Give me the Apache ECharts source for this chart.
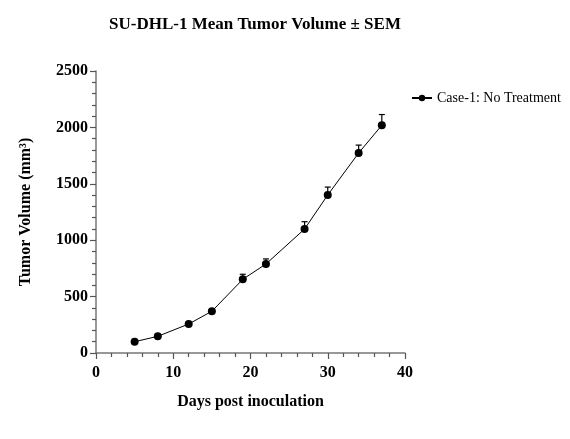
<!DOCTYPE html>
<html>
<head>
<meta charset="utf-8">
<script src="https://cdn.jsdelivr.net/npm/echarts@6/dist/echarts.min.js"></script>
<style>
  html, body { margin: 0; padding: 0; background: #fff; }
  #chart { width: 570px; height: 439px; }
</style>
</head>
<body>
<div id="chart"></div>
<script>
// data
const days = [5, 8, 12, 15, 19, 22, 27, 30, 34, 37]
const meanVolume = [100, 148, 257, 370, 653, 789, 1099, 1401, 1773, 2019]
const sem = [0, 0, 0, 0, 45, 45, 65, 70, 70, 95]
const seriesName = 'Case-1: No Treatment'

const serif = '"Liberation Serif", "Times New Roman", serif'

const points = days.map((d, i) => [d, meanVolume[i]])
const errData = days.map((d, i) => [d, meanVolume[i], meanVolume[i] + sem[i]])

const chart = echarts.init(document.getElementById('chart'))

// upper error bar only, like the source plot
const renderErr = (params, api) => {
  const x = api.value(0)
  const lo = api.coord([x, api.value(1)])
  const hi = api.coord([x, api.value(2)])
  const cap = 3
  const style = { stroke: '#000', lineWidth: 1.2 }
  return {
    type: 'group',
    children: [
      { type: 'line', shape: { x1: lo[0], y1: lo[1], x2: hi[0], y2: hi[1] }, style },
      { type: 'line', shape: { x1: hi[0] - cap, y1: hi[1], x2: hi[0] + cap, y2: hi[1] }, style }
    ]
  }
}

chart.setOption({
  animation: false,
  title: {
    text: 'SU-DHL-1 Mean Tumor Volume ± SEM',
    left: 250,
    textAlign: 'center',
    top: 11,
    textStyle: { fontFamily: serif, fontWeight: 'bold', fontSize: 17, color: '#000' }
  },
  legend: {
    left: 406,
    top: 86,
    itemWidth: 20,
    itemHeight: 8,
    itemGap: 8,
    textStyle: { fontFamily: serif, fontSize: 14, color: '#000' },
    data: [seriesName]
  },
  grid: { left: 96, right: 165, top: 71, bottom: 86 },
  xAxis: {
    type: 'value',
    min: 0,
    max: 40,
    interval: 10,
    name: 'Days post inoculation',
    nameLocation: 'middle',
    nameGap: 41,
    nameTextStyle: { fontFamily: serif, fontWeight: 'bold', fontSize: 16, color: '#000' },
    axisLine: { show: true, lineStyle: { color: '#777', width: 1.5 } },
    axisTick: { show: true, length: 6, lineStyle: { color: '#555', width: 1.2 } },
    minorTick: { show: true, splitNumber: 5, length: 4, lineStyle: { color: '#555', width: 1.2 } },
    axisLabel: { fontFamily: serif, fontWeight: 'bold', fontSize: 16, color: '#000', margin: 12 },
    splitLine: { show: false }
  },
  yAxis: {
    type: 'value',
    min: 0,
    max: 2500,
    interval: 500,
    name: 'Tumor Volume (mm³)',
    nameLocation: 'middle',
    nameGap: 62,
    nameTextStyle: { fontFamily: serif, fontWeight: 'bold', fontSize: 16, color: '#000' },
    axisLine: { show: true, lineStyle: { color: '#777', width: 1.5 } },
    axisTick: { show: true, length: 6, lineStyle: { color: '#555', width: 1.2 } },
    minorTick: { show: true, splitNumber: 5, length: 4, lineStyle: { color: '#555', width: 1.2 } },
    axisLabel: {
      fontFamily: serif, fontWeight: 'bold', fontSize: 16, color: '#000', margin: 8,
      formatter: v => String(v)
    },
    splitLine: { show: false }
  },
  series: [
    {
      type: 'custom',
      name: 'err',
      renderItem: renderErr,
      data: errData,
      encode: { x: 0, y: [1, 2] },
      z: 1,
      silent: true
    },
    {
      name: seriesName,
      type: 'line',
      data: points,
      symbol: 'circle',
      symbolSize: 8,
      itemStyle: { color: '#000' },
      lineStyle: { color: '#000', width: 1 },
      z: 2
    }
  ]
})
</script>
</body>
</html>
